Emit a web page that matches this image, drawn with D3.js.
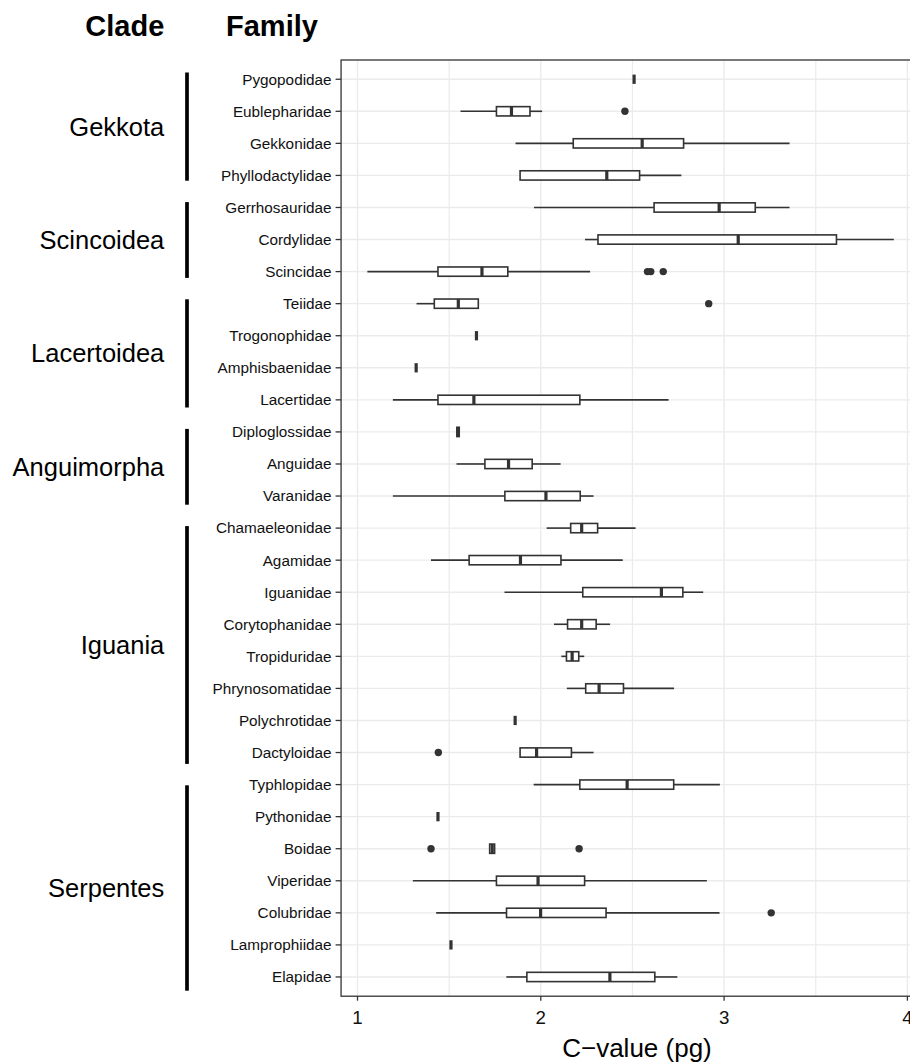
<!DOCTYPE html>
<html>
<head>
<meta charset="utf-8">
<script src="https://cdn.jsdelivr.net/npm/d3@7"></script>
<style>
  html, body { margin: 0; padding: 0; background: #fff; }
  svg { display: block; font-family: "Liberation Sans", Arial, Helvetica, sans-serif; }
</style>
</head>
<body>
<svg id="chart" width="910" height="1062"></svg>
<script>
// ---------------- data ----------------
const families = ["Pygopodidae","Eublepharidae","Gekkonidae","Phyllodactylidae",
  "Gerrhosauridae","Cordylidae","Scincidae",
  "Teiidae","Trogonophidae","Amphisbaenidae","Lacertidae",
  "Diploglossidae","Anguidae","Varanidae",
  "Chamaeleonidae","Agamidae","Iguanidae","Corytophanidae","Tropiduridae","Phrynosomatidae","Polychrotidae","Dactyloidae",
  "Typhlopidae","Pythonidae","Boidae","Viperidae","Colubridae","Lamprophiidae","Elapidae"];

const familyClade = ["Gekkota","Gekkota","Gekkota","Gekkota",
  "Scincoidea","Scincoidea","Scincoidea",
  "Lacertoidea","Lacertoidea","Lacertoidea","Lacertoidea",
  "Anguimorpha","Anguimorpha","Anguimorpha",
  "Iguania","Iguania","Iguania","Iguania","Iguania","Iguania","Iguania","Iguania",
  "Serpentes","Serpentes","Serpentes","Serpentes","Serpentes","Serpentes","Serpentes"];

const clades = ["Gekkota","Scincoidea","Lacertoidea","Anguimorpha","Iguania","Serpentes"];

const lowWhisker  = [2.509,1.562,1.862,1.887,1.963,2.241,1.054,1.322,1.649,1.320,1.193,1.542,1.540,1.193,2.032,1.401,1.802,2.072,2.112,2.142,1.860,1.887,1.961,1.439,1.721,1.302,1.429,1.510,1.812];
const q1          = [2.509,1.758,2.177,1.887,2.618,2.312,1.439,1.419,1.649,1.320,1.439,1.542,1.695,1.804,2.163,1.609,2.229,2.146,2.140,2.245,1.860,1.887,2.213,1.439,1.721,1.758,1.813,1.510,1.924];
const median      = [2.509,1.840,2.553,2.360,2.973,3.077,1.679,1.550,1.649,1.320,1.635,1.548,1.824,2.028,2.223,1.889,2.658,2.223,2.171,2.318,1.860,1.977,2.471,1.439,1.735,1.985,1.999,1.510,2.377];
const q3          = [2.509,1.941,2.779,2.539,3.170,3.613,1.820,1.659,1.649,1.320,2.213,1.555,1.953,2.215,2.310,2.110,2.775,2.302,2.207,2.451,1.860,2.167,2.725,1.439,1.748,2.239,2.356,1.510,2.622];
const highWhisker = [2.509,2.007,3.357,2.767,3.357,3.926,2.269,1.659,1.649,1.320,2.697,1.555,2.108,2.288,2.517,2.447,2.886,2.378,2.237,2.727,1.860,2.288,2.977,1.439,1.748,2.906,2.975,1.510,2.745];
const outliers    = [[],[2.459],[],[],[],[],[2.582,2.600,2.668],[2.916],[],[],[],[],[],[],[],[],[],[],[],[],[],[1.441],[],[],[1.401,2.209],[],[3.257],[],[]];

const xTicks = [1, 2, 3, 4];
const xMinor = [1.5, 2.5, 3.5];

// ---------------- layout ----------------
const svg = d3.select("#chart");
const ink = "#333333";

const x = d3.scaleLinear().domain([1, 4]).range([357.5, 907.4]);
const dMin = d3.min(lowWhisker.concat(outliers.flat()));
const dMax = d3.max(highWhisker.concat(outliers.flat()));
const pad = (dMax - dMin) * 0.05;
const px0 = x(dMin - pad), px1 = x(dMax + pad);
const py0 = 60, py1 = 996.2;

const y = d3.scalePoint().domain(families).range([py0, py1]).padding(0.6);
const boxH = y.step() * 0.29;

// clade panel scale (index based)
const yc = d3.scaleLinear().domain([0, families.length - 1]).range([78, 985.2]);

// ---------------- panel ----------------
const grid = svg.append("g");
grid.selectAll("line.vmin").data(xMinor).join("line")
  .attr("x1", d => x(d)).attr("x2", d => x(d)).attr("y1", py0).attr("y2", py1)
  .attr("stroke", "#EBEBEB").attr("stroke-width", 1.2);
grid.selectAll("line.vmaj").data(xTicks).join("line")
  .attr("x1", d => x(d)).attr("x2", d => x(d)).attr("y1", py0).attr("y2", py1)
  .attr("stroke", "#EBEBEB").attr("stroke-width", 1.4);
grid.selectAll("line.h").data(families).join("line")
  .attr("x1", px0).attr("x2", px1).attr("y1", d => y(d)).attr("y2", d => y(d))
  .attr("stroke", "#EBEBEB").attr("stroke-width", 1.4);

// boxes
const rows = families.map((f, i) => ({f, i}));
const g = svg.append("g");
g.selectAll("line.wl").data(rows).join("line")
  .attr("x1", d => x(lowWhisker[d.i])).attr("x2", d => x(q1[d.i]))
  .attr("y1", d => y(d.f)).attr("y2", d => y(d.f))
  .attr("stroke", ink).attr("stroke-width", 1.6);
g.selectAll("line.wh").data(rows).join("line")
  .attr("x1", d => x(q3[d.i])).attr("x2", d => x(highWhisker[d.i]))
  .attr("y1", d => y(d.f)).attr("y2", d => y(d.f))
  .attr("stroke", ink).attr("stroke-width", 1.6);
g.selectAll("rect.box").data(rows).join("rect")
  .attr("x", d => x(q1[d.i])).attr("width", d => x(q3[d.i]) - x(q1[d.i]))
  .attr("y", d => y(d.f) - boxH / 2).attr("height", boxH)
  .attr("fill", "#fff").attr("stroke", ink).attr("stroke-width", 1.6);
g.selectAll("line.med").data(rows).join("line")
  .attr("x1", d => x(median[d.i])).attr("x2", d => x(median[d.i]))
  .attr("y1", d => y(d.f) - boxH / 2).attr("y2", d => y(d.f) + boxH / 2)
  .attr("stroke", ink).attr("stroke-width", 3.2);
const outPts = [];
outliers.forEach((arr, i) => arr.forEach(v => outPts.push({f: families[i], v})));
g.selectAll("circle").data(outPts).join("circle")
  .attr("cx", d => x(d.v)).attr("cy", d => y(d.f)).attr("r", 3.7)
  .attr("fill", ink);

// border
svg.append("rect").attr("x", px0).attr("y", py0)
  .attr("width", px1 - px0).attr("height", py1 - py0)
  .attr("fill", "none").attr("stroke", ink).attr("stroke-width", 1.3);

// ---------------- axes ----------------
const ya = svg.append("g");
ya.selectAll("line").data(families).join("line")
  .attr("x1", px0 - 5.5).attr("x2", px0).attr("y1", d => y(d)).attr("y2", d => y(d))
  .attr("stroke", ink).attr("stroke-width", 1.3);
ya.selectAll("text").data(families).join("text")
  .attr("x", px0 - 9.5).attr("y", d => y(d)).attr("dy", "0.35em")
  .attr("text-anchor", "end").attr("font-size", "15.3px").attr("fill", "#111")
  .text(d => d);

const xa = svg.append("g");
xa.selectAll("line").data(xTicks).join("line")
  .attr("x1", d => x(d)).attr("x2", d => x(d)).attr("y1", py1).attr("y2", py1 + 4.5)
  .attr("stroke", ink).attr("stroke-width", 1.3);
xa.selectAll("text").data(xTicks).join("text")
  .attr("x", d => x(d)).attr("y", py1 + 27.3)
  .attr("text-anchor", "middle").attr("font-size", "18.7px").attr("fill", "#111")
  .text(d => d);
svg.append("text").attr("x", 637).attr("y", 1057)
  .attr("text-anchor", "middle").attr("font-size", "26px").attr("fill", "#000")
  .text("C\u2212value (pg)");

// ---------------- clade column ----------------
const cladeSpans = clades.map(c => {
  const idx = familyClade.map((k, i) => k === c ? i : -1).filter(i => i >= 0);
  return {c, s: d3.min(idx), e: d3.max(idx)};
});
const cg = svg.append("g");
cg.selectAll("line").data(cladeSpans).join("line")
  .attr("x1", 187).attr("x2", 187)
  .attr("y1", d => yc(d.s - 0.17)).attr("y2", d => yc(d.e + 0.17))
  .attr("stroke", "#000").attr("stroke-width", 3.7);
cg.selectAll("text").data(cladeSpans).join("text")
  .attr("x", 164.3).attr("y", d => yc((d.s + d.e) / 2)).attr("dy", "0.35em")
  .attr("text-anchor", "end").attr("font-size", "25.5px").attr("fill", "#000")
  .text(d => d.c);

// headers
svg.append("text").attr("x", 164.3).attr("y", 36)
  .attr("text-anchor", "end").attr("font-size", "29px").attr("font-weight", "bold")
  .text("Clade");
svg.append("text").attr("x", 226).attr("y", 36)
  .attr("text-anchor", "start").attr("font-size", "29px").attr("font-weight", "bold")
  .text("Family");
</script>
</body>
</html>
